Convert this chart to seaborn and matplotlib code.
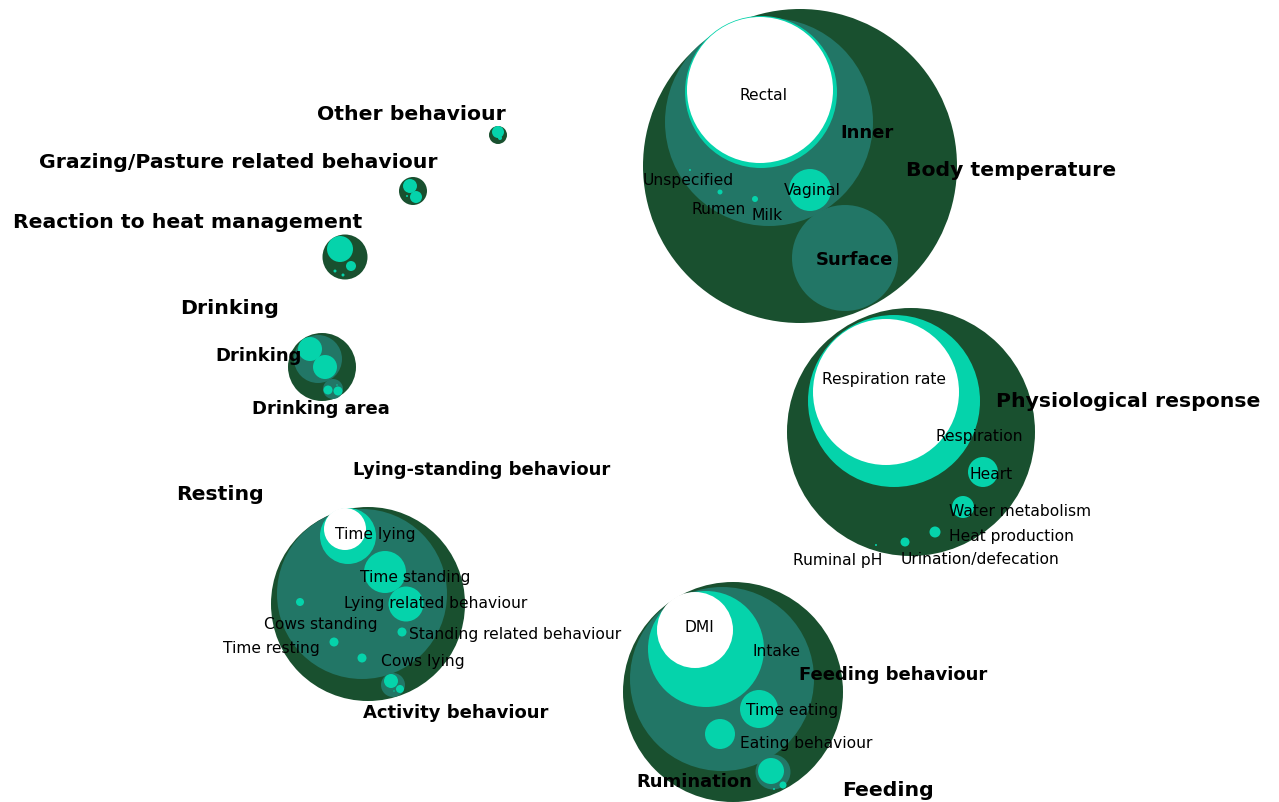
import matplotlib
matplotlib.use('Agg')
import matplotlib.pyplot as plt
from matplotlib.patches import Circle
import seaborn as sns

# circle packing: centre x, centre y (y grows downwards), radius, depth
circle_names = [
    'Body temperature', 'Inner', 'Rectal', 'Rectal_', 'Vaginal', 'Milk', 'Rumen', 'Unspecified', 'Surface',
    'Physiological response', 'Respiration', 'Respiration rate', 'Heart', 'Water metabolism',
    'Heat production', 'Urination/defecation', 'Ruminal pH',
    'Feeding', 'Feeding behaviour', 'Intake', 'DMI', 'Time eating', 'Eating behaviour',
    'Rumination', 'Rumination_a', 'Rumination_b', 'Rumination_c',
    'Resting', 'Lying-standing behaviour', 'Time lying_', 'Time lying', 'Time standing',
    'Lying related behaviour', 'Standing related behaviour', 'Cows standing', 'Time resting', 'Cows lying',
    'Activity behaviour', 'Activity_a', 'Activity_b', 'Activity_c',
    'Drinking', 'Drinking_', 'Drinking_a', 'Drinking_b', 'Drinking area', 'Drinking area_a',
    'Drinking area_b', 'Drinking area_c',
    'Reaction to heat management', 'Reaction_a', 'Reaction_b', 'Reaction_c', 'Reaction_d',
    'Grazing/Pasture related behaviour', 'Grazing_a', 'Grazing_b', 'Grazing_c',
    'Other behaviour', 'Other_a', 'Other_b',
]
circle_x = [
    800, 769, 761, 760, 810, 755, 720, 690, 845,
    911, 894, 886, 983, 963, 935, 905, 876,
    733, 722, 706, 695, 759, 720, 773, 771, 783, 774,
    368, 362, 348, 345, 385, 406, 402, 300, 334, 362,
    393, 391, 400, 394,
    322, 318, 310, 325, 333, 328, 338, 337,
    345, 340, 351, 335, 343,
    413, 410, 416, 407,
    498, 498, 500,
]
circle_y = [
    167, 123, 93, 91, 191, 200, 193, 171, 259,
    433, 402, 393, 473, 508, 533, 543, 546,
    693, 680, 650, 631, 710, 735, 773, 772, 786, 790,
    605, 595, 537, 530, 573, 605, 633, 603, 643, 659,
    686, 682, 690, 692,
    368, 360, 350, 368, 390, 391, 392, 386,
    258, 250, 267, 272, 276,
    192, 187, 198, 197,
    136, 133, 139,
]
circle_r = [
    157, 104, 76, 73, 21, 3, 2.5, 1, 53,
    124, 86, 73, 15, 11, 5.5, 4.5, 1,
    110, 92, 58, 38, 19, 15, 17.5, 13, 3.5, 1,
    97, 85, 28, 21, 21, 17.5, 4.5, 4, 4.5, 4.5,
    12, 7, 4, 0.7,
    34, 24, 12, 12, 10, 4.5, 4.5, 0.7,
    22.5, 13, 5, 1.5, 1.5,
    14, 7, 6, 1,
    9, 6, 2,
]
circle_depth = [
    1, 2, 3, 4, 3, 3, 3, 3, 2,
    1, 3, 4, 3, 3, 3, 3, 3,
    1, 2, 3, 4, 3, 3, 2, 3, 3, 3,
    1, 2, 3, 4, 3, 3, 3, 3, 3, 3,
    2, 3, 3, 3,
    1, 2, 3, 3, 2, 3, 3, 3,
    1, 3, 3, 3, 3,
    1, 3, 3, 3,
    1, 3, 3,
]

# labels: text, centre x, centre y, level (1 = top group, 2 = sub group, 3 = leaf)
label_text = [
    'Other behaviour', 'Grazing/Pasture related behaviour', 'Reaction to heat management',
    'Drinking', 'Drinking', 'Drinking area',
    'Resting', 'Lying-standing behaviour', 'Time lying', 'Time standing', 'Lying related behaviour',
    'Cows standing', 'Standing related behaviour', 'Time resting', 'Cows lying', 'Activity behaviour',
    'DMI', 'Intake', 'Feeding behaviour', 'Time eating', 'Eating behaviour', 'Rumination', 'Feeding',
    'Rectal', 'Inner', 'Body temperature', 'Unspecified', 'Rumen', 'Milk', 'Vaginal', 'Surface',
    'Respiration rate', 'Physiological response', 'Respiration', 'Heart', 'Water metabolism',
    'Heat production', 'Urination/defecation', 'Ruminal pH',
]
label_x = [
    411, 238, 187.5, 229.5, 259, 321,
    219.5, 481.5, 375, 415, 435.5, 320.5, 515, 271.5, 423, 456,
    699, 777, 893.5, 792, 806, 694, 888.5,
    764, 867, 1011.5, 688.5, 719, 767.5, 812, 854.5,
    884, 1128, 979, 991, 1020.5, 1011.5, 980, 838,
]
label_y = [
    115, 162, 222, 309, 356, 409,
    495, 470, 535, 578, 604, 625, 635, 649, 662, 713,
    628, 652, 675, 711, 744, 782, 791,
    95, 133, 171, 180, 209, 216, 190, 260,
    380, 402, 437, 475, 511, 537, 560, 561,
]
label_level = [
    1, 1, 1, 1, 2, 2,
    1, 2, 3, 3, 3, 3, 3, 3, 3, 2,
    3, 3, 2, 3, 3, 2, 1,
    3, 2, 1, 3, 3, 3, 3, 2,
    3, 1, 3, 3, 3, 3, 3, 3,
]

sns.set_theme(style='white')
plt.rcParams['font.family'] = ['DejaVu Sans']
depth_colors = dict(zip([1, 2, 3, 4], sns.color_palette(['#19502f', '#227666', '#05d3ab', '#ffffff'])))
level_size = {1: 14.7, 2: 13, 3: 11.2}
level_weight = {1: 'bold', 2: 'bold', 3: 'normal'}

fig = plt.figure(figsize=(12.79, 8.03), dpi=100)
ax = fig.add_axes([0, 0, 1, 1])

for name, x, y, r, d in zip(circle_names, circle_x, circle_y, circle_r, circle_depth):
    ax.add_patch(Circle((x, y), r, facecolor=depth_colors[d], edgecolor='none', zorder=d))

for t, x, y, lv in zip(label_text, label_x, label_y, label_level):
    ax.text(x, y, t, ha='center', va='center', zorder=10, color='black',
            fontsize=level_size[lv], fontweight=level_weight[lv])

ax.set_xlim(0, 1279)
ax.set_ylim(803, 0)
ax.set_aspect('equal')
ax.axis('off')

plt.savefig('out.png', dpi=100)
plt.close()
